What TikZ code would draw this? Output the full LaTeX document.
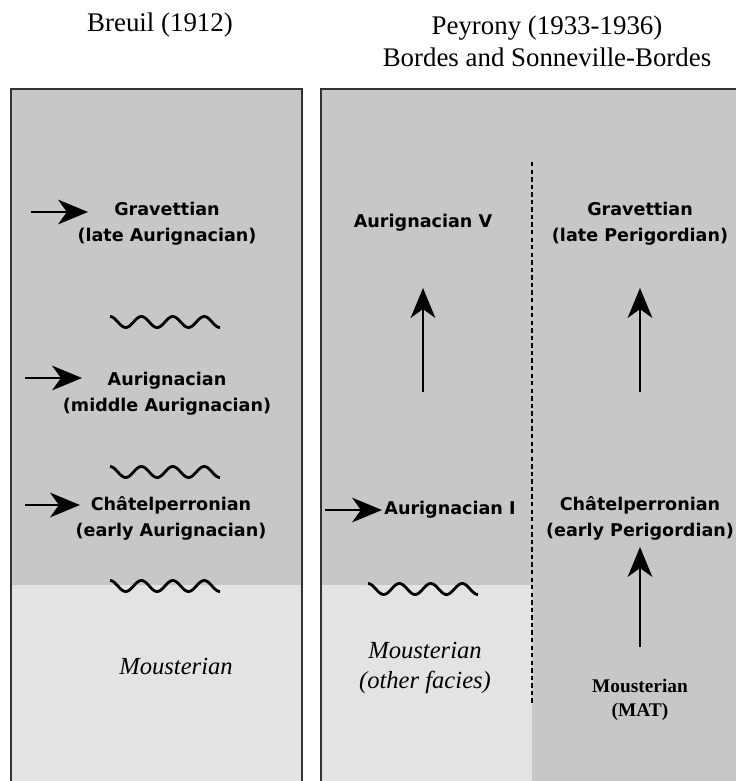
\documentclass[tikz,border=0pt]{standalone}
\usepackage{fontspec}
\setmainfont{Liberation Serif}
\newfontfamily\lblfont{DejaVu Sans}
\usetikzlibrary{arrows.meta, positioning}

\definecolor{layerdark}{gray}{0.78}
\definecolor{layerlight}{gray}{0.89}

\begin{document}
\begin{tikzpicture}[
  x=0.02cm, y=-0.02cm,
  header/.style={font=\fontsize{15.3}{18}\selectfont, align=center, inner sep=0pt},
  stage/.style={font=\lblfont\bfseries\fontsize{10}{14.7}\selectfont, align=center, inner sep=0pt},
  facies/.style={font=\itshape\fontsize{14}{17}\selectfont, align=center, inner sep=0pt},
  matlabel/.style={font=\bfseries\fontsize{11}{13.6}\selectfont, align=center, inner sep=0pt},
  frame/.style={line width=1.2pt, draw=black!80},
  arrow/.style={line width=1.6pt, -{Stealth[length=17pt, width=14pt, inset=5pt]}},
  wavy/.style={line width=1.6pt},
  divider/.style={line width=1.7pt, dash pattern=on 2.5pt off 1.8pt}
]
\useasboundingbox (0,0) rectangle (736,781);

% Layers
\fill[layerdark] (11,89) rectangle (302,585);
\fill[layerlight] (11,585) rectangle (302,781);
\fill[layerdark] (321,89) rectangle (736,781);
\fill[layerlight] (321,585) rectangle (532,781);
\draw[frame] (11,781) |- (302,89) -- (302,781);
\draw[frame] (321,781) |- (736,89);

% Headers
\node[header] (breuil) at (160,25) {Breuil (1912)};
\node[header] (peyrony) at (547,41) {Peyrony (1933-1936)\\Bordes and Sonneville-Bordes};

% Nodes, Breuil
\node[stage] (gravL) at (167,224) {Gravettian\\(late Aurignacian)};
\node[stage] (aurL) at (167,394) {Aurignacian\\(middle Aurignacian)};
\node[stage] (chatL) at (171,518) {Châtelperronian\\(early Aurignacian)};
\node[facies] (mousL) at (176,666) {Mousterian};

% Nodes, Peyrony
\node[stage] (aurV) at (423,223) {Aurignacian V};
\node[stage] (aurI) at (450,510) {Aurignacian I};
\node[facies] (mousR) at (425,668) {Mousterian\\(other facies)};
\node[stage] (gravR) at (640,224) {Gravettian\\(late Perigordian)};
\node[stage] (chatR) at (640,518) {Châtelperronian\\(early Perigordian)};
\node[matlabel] (mat) at (640,700) {Mousterian\\(MAT)};

% Arrow ends
\coordinate (gravA) at (31,212);  \coordinate (gravB) at (88,212);
\coordinate (aurA) at (25,378);   \coordinate (aurB) at (82,378);
\coordinate (chatA) at (25,505);  \coordinate (chatB) at (80,505);
\coordinate (aurIA) at (325,510); \coordinate (aurIB) at (382,510);
\coordinate (upVA) at (423,392);  \coordinate (upVB) at (423,288);
\coordinate (upGA) at (640,392);  \coordinate (upGB) at (640,288);
\coordinate (upCA) at (640,647);  \coordinate (upCB) at (640,547);
\coordinate (divtop) at (532,162); \coordinate (divbot) at (532,703);

% Arrows
\draw[arrow] (gravA) -- (gravB);
\draw[arrow] (aurA) -- (aurB);
\draw[arrow] (chatA) -- (chatB);
\draw[arrow] (aurIA) -- (aurIB);
\draw[arrow] (upVA) -- (upVB);
\draw[arrow] (upGA) -- (upGB);
\draw[arrow] (upCA) -- (upCB);

% Hiatus waves
\foreach \cx/\cy in {165/322, 165/472, 165/586, 423/589}
  \draw[wavy] plot[domain=-55:55, samples=90, smooth] ({\cx+\x}, {\cy-5.5*cos(11.465*(\x+55))});

% Divider
\draw[divider] (divtop) -- (divbot);

\end{tikzpicture}
\end{document}
